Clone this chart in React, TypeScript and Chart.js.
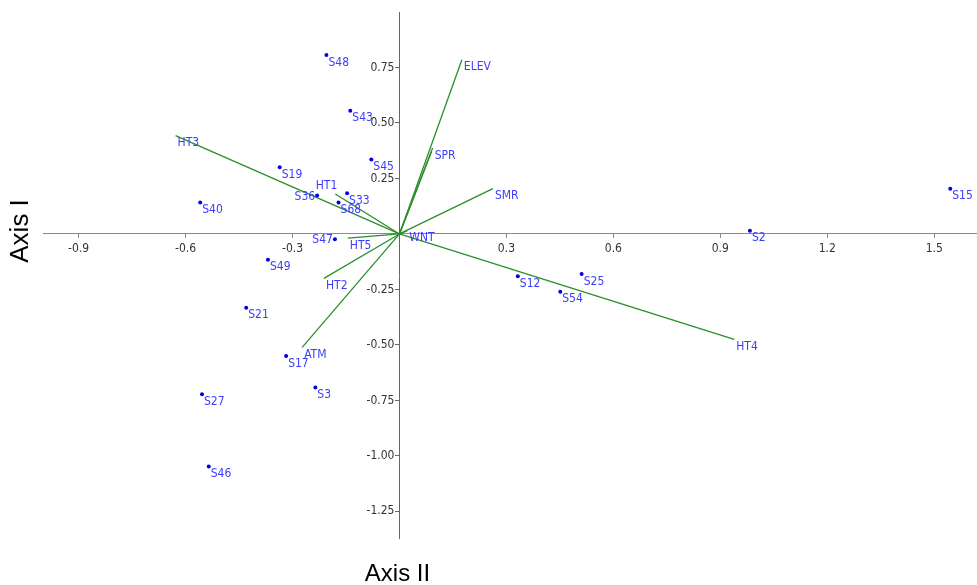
import React, { useEffect, useRef } from 'react';
import { Chart, registerables } from 'chart.js';

Chart.register(...registerables);

// Sample scores (Axis II = horizontal, Axis I = vertical)
const siteNames = ['S48', 'S43', 'S45', 'S19', 'S40', 'S36', 'S33', 'S68', 'S47', 'S49', 'S21', 'S17', 'S3', 'S27', 'S46', 'S12', 'S25', 'S54', 'S2', 'S15'];
const siteX = [-0.205, -0.138, -0.079, -0.336, -0.559, -0.231, -0.147, -0.171, -0.181, -0.369, -0.430, -0.318, -0.236, -0.554, -0.535, 0.332, 0.511, 0.451, 0.983, 1.545];
const siteY = [0.806, 0.555, 0.335, 0.300, 0.142, 0.173, 0.183, 0.142, -0.024, -0.116, -0.333, -0.550, -0.692, -0.722, -1.048, -0.191, -0.180, -0.260, 0.014, 0.204];
const siteAnchor = ['br', 'br', 'br', 'br', 'br', 'left', 'br', 'br', 'left', 'br', 'br', 'br', 'br', 'br', 'br', 'br', 'br', 'br', 'br', 'br'];

// Environmental vectors
const vecNames = ['ELEV', 'SPR', '', 'SMR', 'WNT', 'HT1', 'HT2', 'HT3', 'HT4', 'HT5', 'ATM'];
const vecX = [0.175, 0.093, 0.090, 0.262, 0.022, -0.180, -0.212, -0.628, 0.939, -0.145, -0.273];
const vecY = [0.785, 0.387, 0.371, 0.204, 0.015, 0.180, -0.200, 0.443, -0.475, -0.019, -0.511];
const vecAnchor = ['br', 'br', 'br', 'br', 'br', 'aboveLeft', 'br', 'br', 'br', 'br', 'br'];

const xTicks = [-0.9, -0.6, -0.3, 0.3, 0.6, 0.9, 1.2, 1.5];
const yTicks = [0.75, 0.5, 0.25, -0.25, -0.5, -0.75, -1.0, -1.25];
const xTitle = 'Axis II';
const yTitle = 'Axis I';

const NARROW = "'Liberation Sans Narrow', 'DejaVu Sans Condensed', 'Liberation Sans', Arial, sans-serif";
const TITLE_FONT = "'Liberation Sans', Arial, sans-serif";
const LABEL_COLOR = '#3c3cff';
const VEC_COLOR = '#2a8f2a';
const TICK_COLOR = '#333';

const labelPlugin = {
  id: 'biplotLabels',
  afterDatasetsDraw(chart: any) {
    const { ctx, scales, chartArea } = chart;
    const xs = scales.x;
    const ys = scales.y;
    ctx.save();

    // y tick labels (left of the vertical axis)
    const axisX = xs.getPixelForValue(0);
    ctx.font = `12px ${NARROW}`;
    ctx.fillStyle = TICK_COLOR;
    ctx.textAlign = 'right';
    ctx.textBaseline = 'middle';
    yTicks.forEach((v) => {
      ctx.fillText(v.toFixed(2), axisX - 5, ys.getPixelForValue(v));
    });

    ctx.fillStyle = LABEL_COLOR;
    const draw = (name: string, vx: number, vy: number, anchor: string) => {
      if (!name) return;
      const px = xs.getPixelForValue(vx);
      const py = ys.getPixelForValue(vy);
      if (anchor === 'left') {
        ctx.textAlign = 'right';
        ctx.fillText(name, px - 2, py + 1);
      } else if (anchor === 'aboveLeft') {
        ctx.textAlign = 'right';
        ctx.fillText(name, px + 2, py - 8);
      } else {
        ctx.textAlign = 'left';
        ctx.fillText(name, px + 2, py + 7.5);
      }
    };
    siteNames.forEach((n, i) => draw(n, siteX[i], siteY[i], siteAnchor[i]));
    vecNames.forEach((n, i) => draw(n, vecX[i], vecY[i], vecAnchor[i]));

    // axis titles
    ctx.fillStyle = '#000';
    ctx.textAlign = 'center';
    ctx.textBaseline = 'middle';
    ctx.font = `24px ${TITLE_FONT}`;
    ctx.fillText(xTitle, xs.getPixelForValue(0) - 2, chartArea.bottom + 36);
    ctx.translate(chartArea.left - 22, ys.getPixelForValue(0) - 3);
    ctx.rotate(-Math.PI / 2);
    ctx.font = `26px ${TITLE_FONT}`;
    ctx.fillText(yTitle, 0, 0);
    ctx.restore();
  },
};

export default function App() {
  const ref = useRef<HTMLCanvasElement | null>(null);

  useEffect(() => {
    if (!ref.current) return;
    const pointData = siteX.map((x, i) => ({ x, y: siteY[i] }));
    const vectorSets = vecX.map((x, i) => ({
      label: vecNames[i] || 'vec',
      data: [{ x: 0, y: 0 }, { x, y: vecY[i] }],
      showLine: true,
      borderColor: VEC_COLOR,
      borderWidth: 1.3,
      pointRadius: 0,
      pointHoverRadius: 0,
      fill: false,
    }));
    const chart = new Chart(ref.current, {
      type: 'scatter',
      data: {
        datasets: [
          {
            label: 'Sites',
            data: pointData,
            backgroundColor: '#0000e0',
            borderColor: '#0000e0',
            borderWidth: 0,
            pointRadius: 2,
          },
          ...vectorSets,
        ],
      },
      options: {
        responsive: false,
        animation: false,
        devicePixelRatio: 1,
        layout: { padding: { left: 43, top: 12, right: 0, bottom: 47 } },
        plugins: {
          legend: { display: false },
          tooltip: { enabled: false },
        },
        scales: {
          x: {
            type: 'linear',
            min: -1.0,
            max: 1.62,
            position: { y: 0 },
            afterBuildTicks: (s: any) => {
              s.ticks = xTicks.map((v) => ({ value: v }));
            },
            ticks: {
              autoSkip: false,
              maxRotation: 0,
              padding: 4,
              color: TICK_COLOR,
              font: { family: NARROW, size: 12 },
              callback: (v: any) => Number(v).toFixed(1),
            },
            grid: { drawOnChartArea: false, drawTicks: true, tickLength: 4, color: '#8a8a8a' },
            border: { display: true, color: '#8a8a8a' },
          },
          y: {
            type: 'linear',
            min: -1.37,
            max: 1.0,
            position: { x: 0 },
            afterBuildTicks: (s: any) => {
              s.ticks = yTicks.map((v) => ({ value: v }));
            },
            ticks: {
              display: false,
              autoSkip: false,
            },
            grid: { drawOnChartArea: false, drawTicks: true, tickLength: 4, color: '#666' },
            border: { display: true, color: '#666' },
          },
        },
      },
      plugins: [labelPlugin],
    } as any);
    return () => chart.destroy();
  }, []);

  return (
    <div style={{ position: 'absolute', left: 0, top: 0, width: 977, height: 585, overflow: 'hidden', background: '#fff' }}>
      <canvas ref={ref} width={981} height={585} style={{ display: 'block' }} />
    </div>
  );
}
